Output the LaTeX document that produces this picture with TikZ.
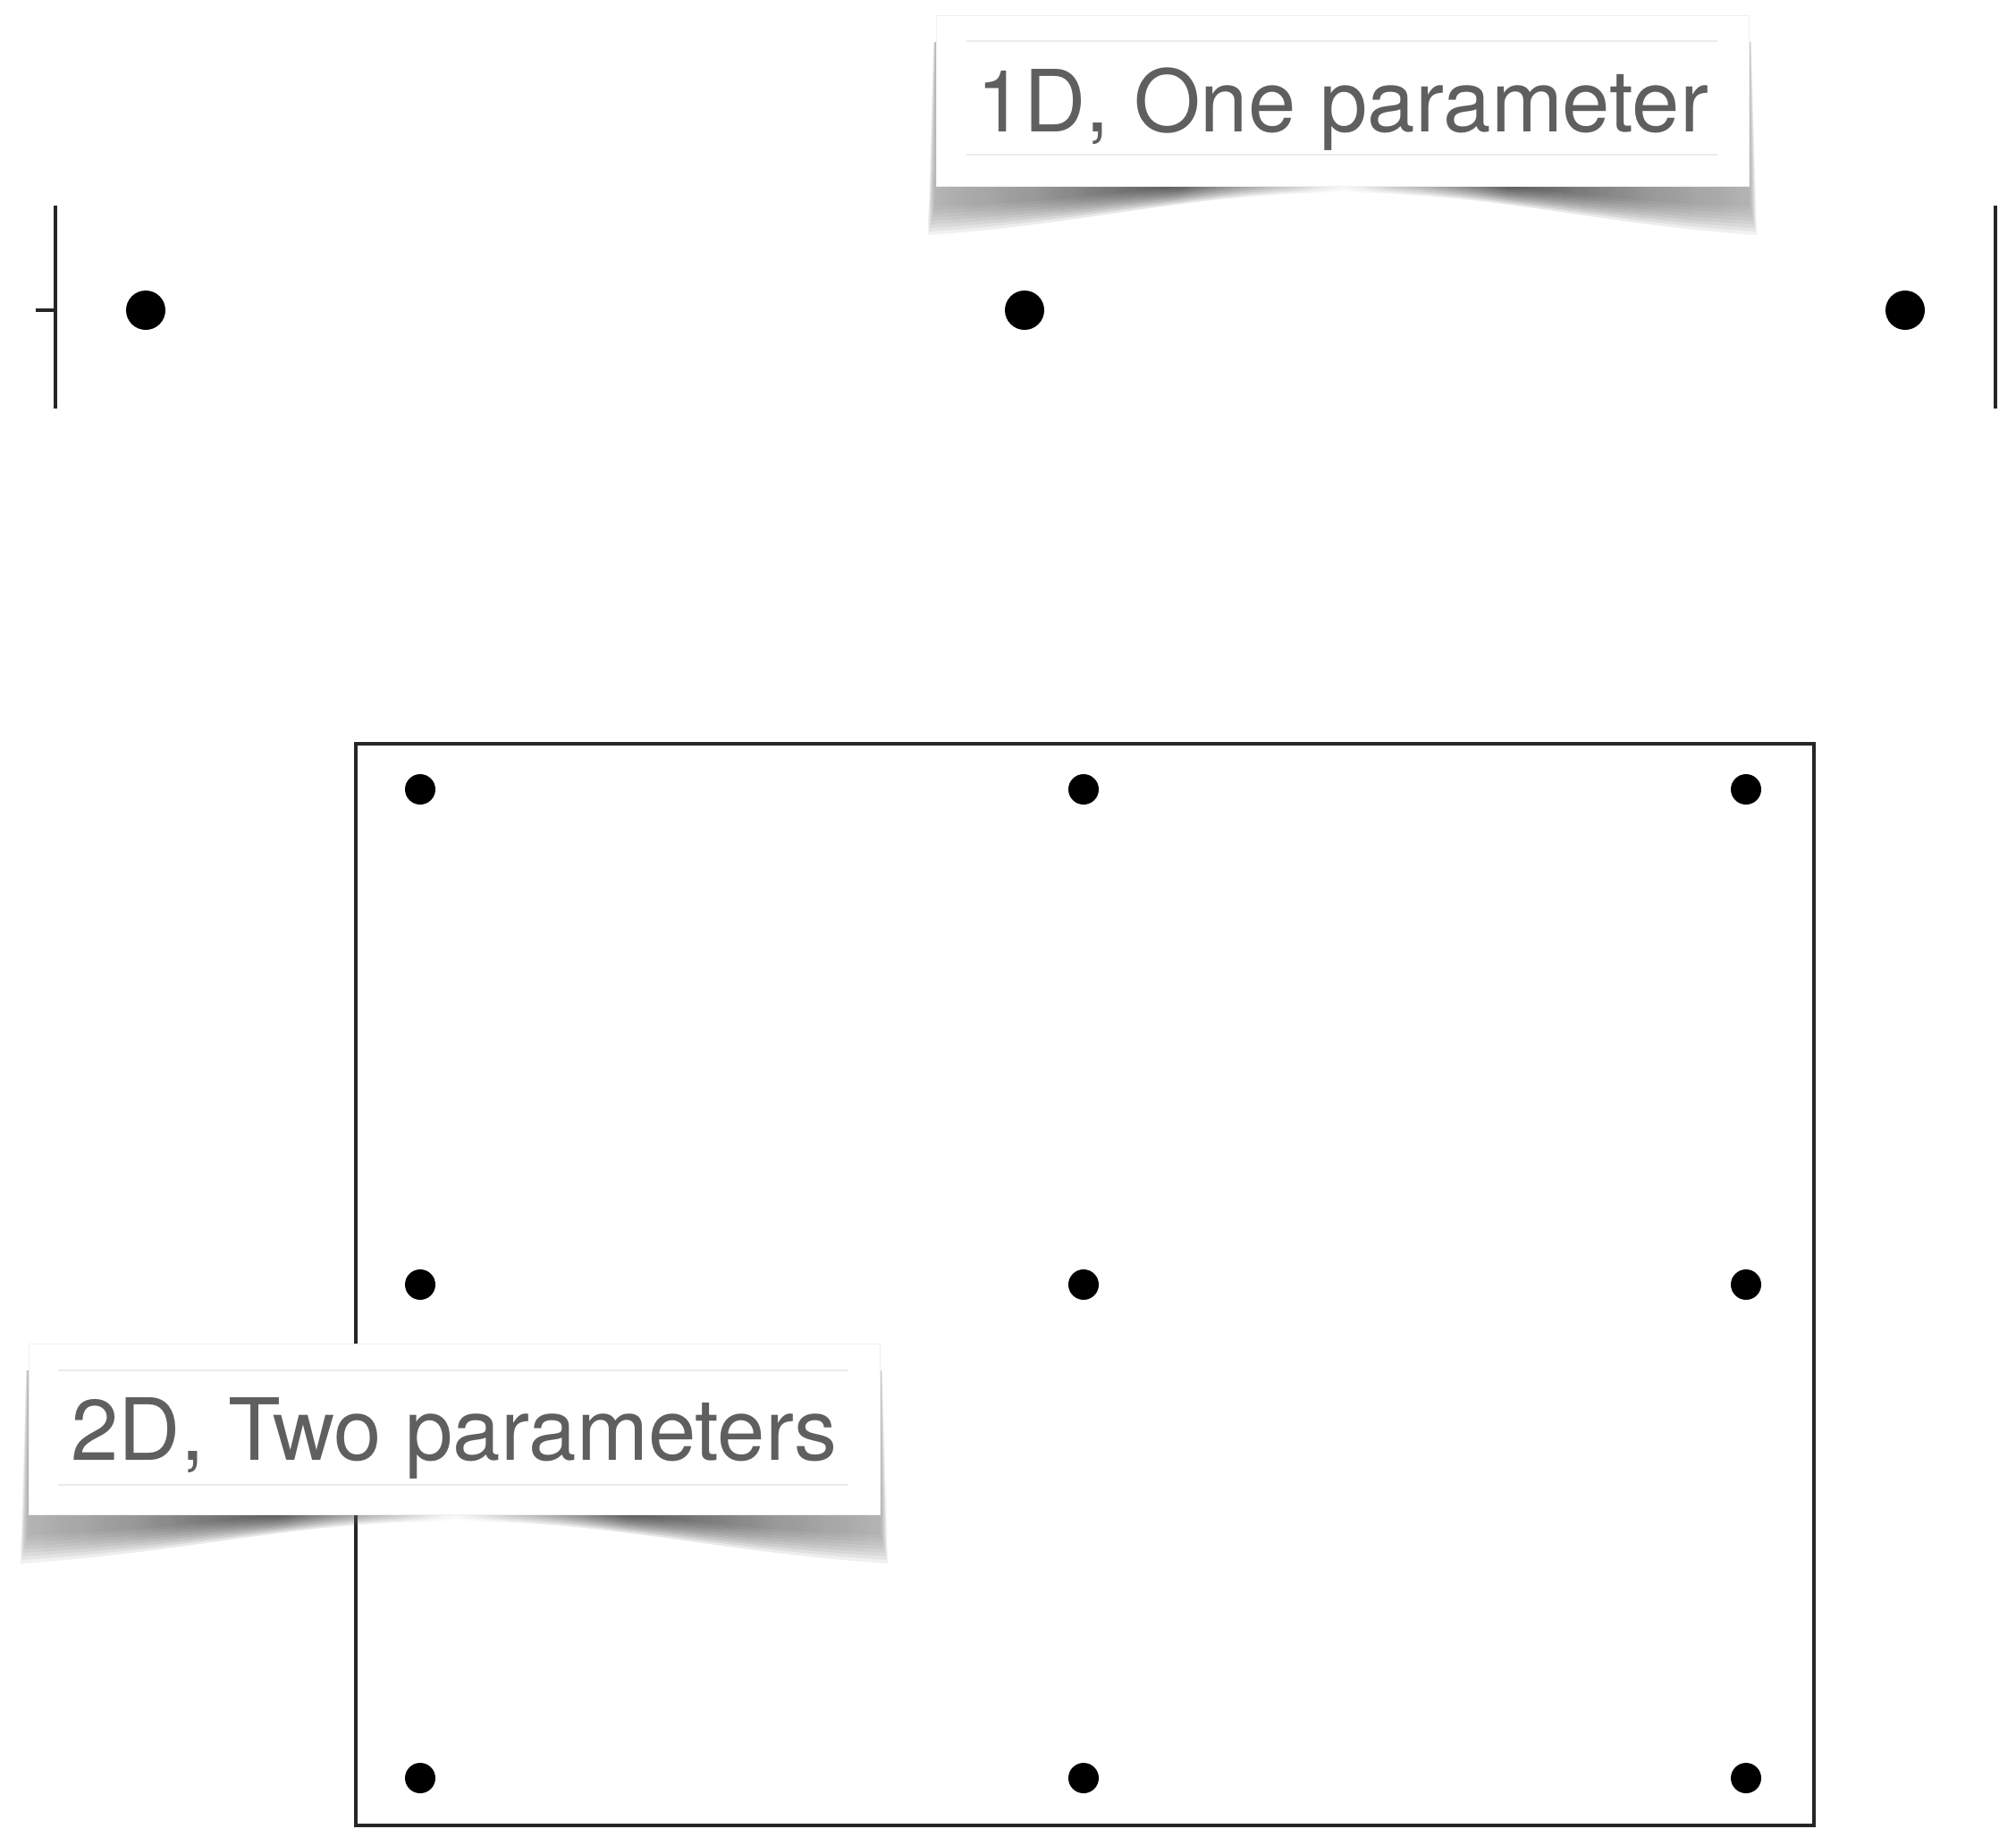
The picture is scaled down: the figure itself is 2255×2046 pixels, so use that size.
\documentclass[tikz,border=0pt]{standalone}
\usepackage{fontspec}
\setmainfont{TeX Gyre Heros}
\definecolor{labelgray}{HTML}{5F5F5F}
\pgfdeclarehorizontalshading{curlshade}{100bp}{color(0bp)=(black!40); color(25bp)=(black!40); color(31bp)=(black!55); color(40bp)=(black!90); color(47bp)=(black!45); color(50bp)=(black!5); color(53bp)=(black!45); color(60bp)=(black!90); color(69bp)=(black!55); color(75bp)=(black!40); color(100bp)=(black!40)}
\newcommand\curlshadow[4]{% L R T B
 \foreach \k in {0,...,8}{
  \pgfmathsetmacro\ee{9-\k}
  \pgfmathsetmacro\dd{55-4*\k}
  \pgfmathsetmacro\mm{7-2*\k}
  \shade[shading=curlshade,opacity=0.125] ({#1-0.3*\ee},{#3+30}) -- ({#1-\ee},{#4+\dd})
    .. controls ({#1+0.2*(#2-#1)},{#4+0.75*\dd}) and ({0.5*(#1+#2)-0.2*(#2-#1)},{#4+\mm+2}) .. ({0.5*(#1+#2)},{#4+\mm})
    .. controls ({0.5*(#1+#2)+0.2*(#2-#1)},{#4+\mm+2}) and ({#2-0.2*(#2-#1)},{#4+0.75*\dd}) .. ({#2+\ee},{#4+\dd})
    -- ({#2+0.3*\ee},{#3+30}) -- cycle;
 }}
\begin{document}
\begin{tikzpicture}[x=1pt,y=-1pt,
  dotbig/.style={circle,fill=black,inner sep=0pt,minimum size=44pt},
  dotsmall/.style={circle,fill=black,inner sep=0pt,minimum size=34pt},
  axisline/.style={line width=4pt,draw=black!85},
  gridframe/.style={line width=3.5pt,draw=black!85},
  labelbox/.style={fill=white,draw=black!6,line width=1pt,inner sep=0pt,text=labelgray,
     text height=69pt,text depth=0pt,font=\fontsize{96}{100}\selectfont},
  boxrule/.style={draw=black!8,line width=1.5pt}]
\useasboundingbox (0,0) rectangle (2255,2046);
\fill[white] (0,0) rectangle (2255,2046);

% ---- 1D axis ----
\coordinate (la) at (62,230);
\coordinate (lb) at (62,457);
\coordinate (lt) at (40,347);
\coordinate (lm) at (62,347);
\coordinate (ra) at (2232,230);
\coordinate (rb) at (2232,457);
\draw[axisline] (la) -- (lb);
\draw[axisline] (lt) -- (lm);
\draw[axisline] (ra) -- (rb);
\node[dotbig] (d1) at (163,347) {};
\node[dotbig] (d2) at (1146,347) {};
\node[dotbig] (d3) at (2131,347) {};

% ---- 2D grid ----
\coordinate (gtl) at (398,832);
\coordinate (gbr) at (2029,2042);
\draw[gridframe] (gtl) rectangle (gbr);
\foreach \c/\xx in {a/470,b/1212,c/1953}{
  \foreach \r/\yy in {1/883,2/1437,3/1989}{
    \node[dotsmall] (g\c\r) at (\xx,\yy) {};
  }
}

% ---- label 1D ----
\curlshadow{1047}{1956}{17}{208}
\node[labelbox,minimum width=909pt,minimum height=191pt] (l1) at (1501.5,113) {1D, One parameter};
\coordinate (l1a) at (1081,46);  \coordinate (l1b) at (1921,46);
\coordinate (l1c) at (1081,173); \coordinate (l1d) at (1921,173);
\draw[boxrule] (l1a) -- (l1b);
\draw[boxrule] (l1c) -- (l1d);

% ---- label 2D ----
\curlshadow{32}{984}{1503}{1694}
\node[labelbox,minimum width=952pt,minimum height=191pt] (l2) at (508,1599) {2D, Two parameters};
\coordinate (l2a) at (65,1533);  \coordinate (l2b) at (949,1533);
\coordinate (l2c) at (65,1661);  \coordinate (l2d) at (949,1661);
\draw[boxrule] (l2a) -- (l2b);
\draw[boxrule] (l2c) -- (l2d);
\end{tikzpicture}
\end{document}
